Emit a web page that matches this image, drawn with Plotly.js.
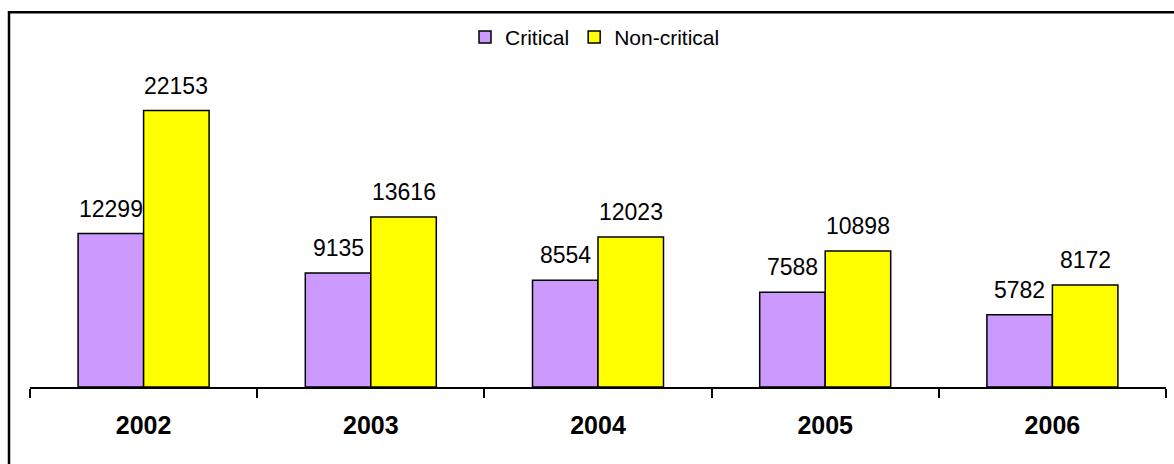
<!DOCTYPE html>
<html>
<head>
<meta charset="utf-8">
<script src="https://cdn.plot.ly/plotly-3.0.1.min.js"></script>
<style>
html,body{margin:0;padding:0;background:#fff;}
#chart{width:1174px;height:464px;}
</style>
</head>
<body>
<div id="chart"></div>
<script>
const years = ['2002', '2003', '2004', '2005', '2006'];
const critical = [12299, 9135, 8554, 7588, 5782];
const nonCritical = [22153, 13616, 12023, 10898, 8172];
const seriesNames = ['Critical', 'Non-critical'];
const seriesColors = ['#CC99FF', '#FFFF00'];

const W = 1174, H = 464;
const plotL = 30, plotR = 1166, plotT = 74.7, plotB = 386.7;
const pw = plotR - plotL, ph = plotB - plotT;

const traces = [critical, nonCritical].map((vals, i) => ({
  type: 'bar',
  name: seriesNames[i],
  x: years,
  y: vals,
  marker: {color: seriesColors[i], line: {color: '#000', width: 1.5}},
  hoverinfo: 'skip'
}));

const bargap = 0.4234;
const barPx = (1 - bargap) * pw / years.length / 2;
const annotations = [];
[critical, nonCritical].forEach((vals, i) => {
  vals.forEach((v, j) => {
    annotations.push({
      x: j, y: v, xref: 'x', yref: 'y',
      text: String(v), showarrow: false,
      xanchor: 'center', yanchor: 'bottom',
      xshift: (i === 0 ? -1 : 1) * barPx / 2,
      yshift: 10,
      font: {family: 'Liberation Sans, Arial, sans-serif', size: 23, color: '#000'}
    });
  });
});

const layout = {
  width: W, height: H,
  margin: {l: plotL, r: W - plotR, t: plotT, b: H - plotB, pad: 0},
  paper_bgcolor: '#fff', plot_bgcolor: '#fff',
  barmode: 'group', bargap: bargap, bargroupgap: 0,
  showlegend: true,
  legend: {
    orientation: 'h', x: (595 - plotL) / pw, xanchor: 'center',
    y: (plotB - 37) / ph, yanchor: 'middle',
    font: {family: 'Liberation Sans, Arial, sans-serif', size: 21, color: '#000'},
    bgcolor: 'rgba(0,0,0,0)', itemclick: false
  },
  xaxis: {
    type: 'category', range: [-0.5, 4.5],
    showline: true, linecolor: '#000', linewidth: 2,
    ticks: 'outside', ticklen: 9, tickwidth: 2, tickcolor: '#000',
    tickson: 'boundaries', showgrid: false, zeroline: false,
    ticklabelstandoff: 15,
    tickfont: {family: 'Liberation Sans, Arial, sans-serif', size: 25, color: '#000', weight: 'bold'},
    fixedrange: true
  },
  yaxis: {
    range: [0, 25000], visible: false, showgrid: false, zeroline: false, fixedrange: true
  },
  annotations: annotations,
  shapes: [{
    type: 'path', xref: 'paper', yref: 'paper',
    path: 'M ' + ((9 - plotL) / pw) + ' ' + (-(H + 20 - plotB) / ph) +
          ' L ' + ((9 - plotL) / pw) + ' ' + ((plotB - 12) / ph) +
          ' L ' + ((W + 20 - plotL) / pw) + ' ' + ((plotB - 12) / ph),
    line: {color: '#000', width: 2.5}
  }]
};

Plotly.newPlot('chart', traces, layout, {displayModeBar: false, staticPlot: true});
</script>
</body>
</html>
